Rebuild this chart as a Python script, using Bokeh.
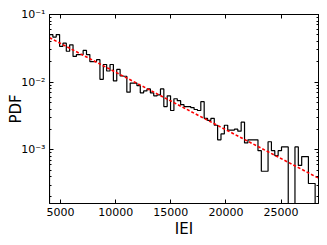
import numpy as np
from bokeh.plotting import figure
from bokeh.models import (Range1d, LinearAxis, LogAxis, FixedTicker, LogTicker,
                          CustomJSTickFormatter)
from bokeh.embed import file_html
from bokeh.resources import INLINE

# ---- data ----
hist_start = 4000
hist_stop = 28400
pdf_values = [
    0.0505, 0.0464, 0.0505, 0.0338, 0.0376, 0.0286, 0.0356, 0.0240, 0.0255, 0.0255,
    0.0294, 0.0255, 0.0201, 0.0201, 0.0215, 0.0110, 0.0182, 0.0146, 0.0182, 0.0104,
    0.0154, 0.0123, 0.0122, 0.00709, 0.00968, 0.00968, 0.00884, 0.00693, 0.00741, 0.00792,
    0.00693, 0.00627, 0.00648, 0.00792, 0.00434, 0.00627, 0.00380, 0.00567, 0.00531, 0.00464,
    0.00434, 0.00434, 0.00420, 0.00393, 0.00380, 0.00513, 0.00291, 0.00272, 0.00291, 0.00230,
    0.00140, 0.00171, 0.00230, 0.00195, 0.00195, 0.00201, 0.00188, 0.00255, 0.00126, 0.00140,
    0.00140, 0.00140, 0.000968, 0.000480, 0.000480, 0.00131, 0.000968, 0.000818, 0.000968, 0.00110,
    0.00110, 0.0, 0.0, 0.00110, 0.000586, 0.000792, 0.000792, 0.000316, 0.000316, 0.0,
]
fit_x = [4000, 28400]
fit_y = [0.0454, 0.00038]
x_ticks = [5000, 10000, 15000, 20000, 25000]
y_min, y_max = 1.6e-4, 0.1
x_min, x_max = 4000, 28400

# ---- build step outline ----
edges = np.linspace(hist_start, hist_stop, len(pdf_values) + 1)
floor = 1e-7
vals = [v if v > 0 else floor for v in pdf_values]
xs = [edges[0]]
ys = [floor]
for i, v in enumerate(vals):
    xs += [edges[i], edges[i + 1]]
    ys += [v, v]
xs.append(edges[-1])
ys.append(floor)

FONT = "DejaVu Sans"

p = figure(width=322, height=240, output_backend="svg", toolbar_location=None,
           y_axis_type="log",
           x_range=Range1d(x_min, x_max), y_range=Range1d(y_min, y_max),
           min_border_left=49, min_border_right=4, min_border_top=14, min_border_bottom=33)
p.background_fill_color = "white"
p.border_fill_color = "white"
p.outline_line_color = "black"
p.outline_line_width = 1
p.grid.visible = False

p.line(xs, ys, line_color="black", line_width=1.2)
p.line(fit_x, fit_y, line_color="#ff0000", line_width=1.6, line_dash="3 2")

sup_js = """
const e = Math.round(Math.log10(tick));
const m = {"-":"\u207b","0":"\u2070","1":"\u00b9","2":"\u00b2","3":"\u00b3","4":"\u2074","5":"\u2075"};
return "10" + String(e).split("").map(c => m[c]).join("");
"""

xa = p.xaxis[0]
xa.ticker = FixedTicker(ticks=x_ticks)
xa.axis_label = "IEI"
ya = p.yaxis[0]
ya.ticker = LogTicker(num_minor_ticks=10)
ya.formatter = CustomJSTickFormatter(code=sup_js)
ya.axis_label = "PDF"

for ax in (xa, ya):
    ax.axis_label_text_font = FONT
    ax.axis_label_text_font_size = "15px"
    ax.axis_label_text_font_style = "normal"
    ax.axis_label_text_color = "black"
    ax.major_label_text_font = FONT
    ax.major_label_text_font_size = "11px"
    ax.major_label_text_color = "black"
    ax.axis_line_color = "black"
    ax.major_tick_in = 4
    ax.major_tick_out = 0
    ax.minor_tick_in = 2
    ax.minor_tick_out = 0
    ax.major_tick_line_color = "black"
    ax.minor_tick_line_color = "black"
xa.major_label_standoff = 4
xa.axis_label_standoff = 1
ya.major_label_standoff = 4
ya.axis_label_standoff = -7

blank = CustomJSTickFormatter(code="return '';")
top = LinearAxis(ticker=FixedTicker(ticks=x_ticks), formatter=blank)
right = LogAxis(ticker=LogTicker(num_minor_ticks=10), formatter=blank)
for ax in (top, right):
    ax.major_label_standoff = 0
    ax.major_tick_in = 4
    ax.major_tick_out = 0
    ax.minor_tick_in = 2
    ax.minor_tick_out = 0
    ax.axis_line_color = "black"
    ax.major_tick_line_color = "black"
    ax.minor_tick_line_color = "black"
p.add_layout(top, "above")
p.add_layout(right, "right")

open("out.html", "w").write(file_html(p, INLINE))
